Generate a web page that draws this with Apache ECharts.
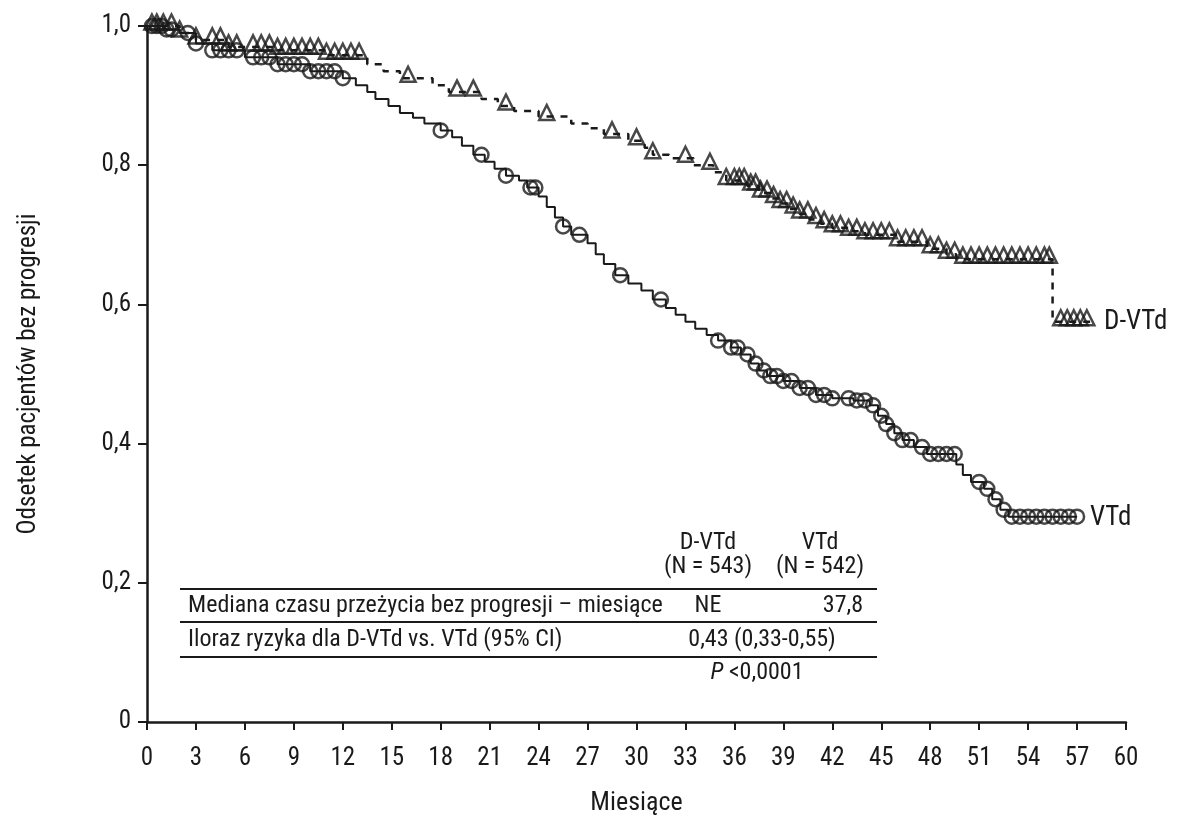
<!DOCTYPE html>
<html><head><meta charset="utf-8">
<script src="https://cdn.jsdelivr.net/npm/echarts@6/dist/echarts.min.js"></script>
<style>html,body{margin:0;background:#fff}#c{width:1178px;height:816px}</style>
</head><body><div id="c"></div>
<script>
// krzywe Kaplana-Meiera: [miesiąc, odsetek]
const vtdSteps = [[0,1],[1,0.995],[2,0.99],[3,0.975],[4,0.965],[6,0.955],[8,0.945],[10,0.935],[12,0.925],[12.8,0.915],[13.5,0.905],[14,0.895],[14.8,0.885],[15.5,0.875],[16.3,0.868],[17,0.86],[18,0.85],[18.7,0.84],[19.3,0.828],[20,0.815],[20.7,0.805],[21.3,0.795],[22,0.785],[22.8,0.778],[23.3,0.768],[24,0.755],[24.5,0.74],[25,0.725],[25.5,0.712],[26,0.70],[27,0.688],[27.5,0.672],[28,0.658],[28.7,0.642],[29.5,0.63],[30.3,0.62],[31,0.607],[31.8,0.595],[32.4,0.585],[33,0.575],[33.6,0.565],[34.3,0.556],[35,0.548],[35.8,0.538],[36.4,0.528],[37,0.515],[37.5,0.505],[38,0.497],[39,0.49],[40,0.48],[41,0.47],[42,0.465],[43.3,0.462],[44.3,0.455],[44.8,0.44],[45.3,0.428],[45.8,0.415],[46.3,0.405],[47,0.395],[47.8,0.385],[49.6,0.37],[50,0.355],[50.5,0.345],[51.3,0.335],[51.8,0.32],[52.3,0.305],[52.8,0.295],[57,0.295]];
const dvtdSteps = [[0,1],[2,0.99],[3,0.98],[5,0.97],[8,0.965],[11,0.958],[13.5,0.945],[14.5,0.935],[15.5,0.925],[17.5,0.915],[18.5,0.905],[20.5,0.895],[21.5,0.885],[22.5,0.878],[24,0.87],[26,0.86],[27,0.853],[28,0.845],[29.5,0.835],[30.5,0.825],[31,0.815],[32,0.81],[33.5,0.80],[34.7,0.79],[35.5,0.778],[36.8,0.77],[37.5,0.76],[38.2,0.752],[38.8,0.745],[39.4,0.737],[40,0.73],[40.6,0.722],[41.3,0.716],[42,0.71],[43,0.705],[44,0.70],[46,0.69],[47.8,0.68],[49,0.672],[49.6,0.665],[55.5,0.575],[57.8,0.575]];
// czasy obserwacji cenzurowanych
const vtdCensor = [0.3,0.6,0.9,1.2,1.5,2.5,3,4,4.5,5,5.5,6.5,7,7.5,8,8.5,9,9.5,10,10.5,11,11.5,12,18,20.5,22,23.5,23.8,25.5,26.5,29,31.5,35,35.8,36.2,36.8,37.3,37.8,38.2,38.6,39,39.5,40,40.5,41,41.5,42,43,43.5,44,44.5,45,45.3,45.8,46.3,46.8,47.5,48,48.5,49,49.5,51,51.5,52,52.5,53,53.5,54,54.5,55,55.5,56,56.5,57];
const dvtdCensor = [0.3,0.6,1,1.5,2,3,4,4.5,5,5.5,6.5,7,7.5,8,8.5,9,9.5,10,10.5,11,11.5,12,12.5,13,16,19,20,22,24.5,28.5,30,31,33,34.5,35.5,36,36.3,36.6,37,37.3,37.6,38,38.4,38.8,39.2,39.6,40,40.5,41,41.5,42,42.5,43,43.5,44,44.5,45,45.5,46,46.5,47,47.5,48,48.5,49,49.5,50,50.5,51,51.5,52,52.5,53,53.5,54,54.5,55,55.3,56,56.4,56.8,57.2,57.6];
const xTicks = [0,60,3];
const yTicks = [0,1,0.2];

function valueAt(steps, t) {
  let v = steps[0][1];
  for (const s of steps) { if (s[0] <= t) v = s[1]; }
  return v;
}
const F = '"Liberation Sans Narrow","Roboto Condensed","Liberation Sans",Arial,sans-serif';
const INK = '#1a1a1a';
const c = echarts.init(document.getElementById('c'));
const txt = (x, y, s, align, style) => ({ type: 'text', x: x, y: y,
  style: Object.assign({ text: s, font: '24px ' + F, fill: INK, textAlign: align || 'left', textVerticalAlign: 'middle' }, style || {}) });
const line = (x1, x2, y) => ({ type: 'line', shape: { x1: x1, y1: y, x2: x2, y2: y }, style: { stroke: INK, lineWidth: 2 } });
c.setOption({
  animation: false,
  grid: { left: 147, right: 52, top: 26, bottom: 94, outerBoundsMode: 'none' },
  xAxis: { type: 'value', min: xTicks[0], max: xTicks[1], interval: xTicks[2],
    name: 'Miesiące', nameLocation: 'middle', nameGap: 68, nameTextStyle: { fontFamily: F, fontSize: 26, color: INK },
    axisLine: { lineStyle: { color: INK, width: 2.5 } }, axisTick: { length: 8, lineStyle: { width: 2 } },
    axisLabel: { fontFamily: F, fontSize: 25, color: INK, margin: 24 }, splitLine: { show: false } },
  yAxis: { type: 'value', min: yTicks[0], max: yTicks[1], interval: yTicks[2],
    name: 'Odsetek pacjentów bez progresji', nameLocation: 'middle', nameGap: 106, nameTextStyle: { fontFamily: F, fontSize: 25, color: INK },
    axisLine: { show: true, lineStyle: { color: INK, width: 2.5 } }, axisTick: { show: true, length: 9, lineStyle: { width: 2 } },
    axisLabel: { fontFamily: F, fontSize: 25, color: INK, margin: 16,
      formatter: v => v === 0 ? '0' : v.toFixed(1).replace('.', ',') }, splitLine: { show: false } },
  series: [
    { type: 'line', step: 'end', data: vtdSteps, symbol: 'none', lineStyle: { color: INK, width: 2 } },
    { type: 'line', step: 'end', data: dvtdSteps, symbol: 'none', lineStyle: { color: INK, width: 2.5, type: [7, 7] } },
    { type: 'scatter', data: vtdCensor.map(t => [t, valueAt(vtdSteps, t)]), symbol: 'circle', symbolSize: 14,
      itemStyle: { color: 'rgba(0,0,0,0)', borderColor: INK, borderWidth: 2.5 } },
    { type: 'scatter', data: dvtdCensor.map(t => [t, valueAt(dvtdSteps, t)]), symbol: 'triangle', symbolSize: 15, symbolOffset: [0, -4],
      itemStyle: { color: 'rgba(0,0,0,0)', borderColor: INK, borderWidth: 2.5 } }
  ],
  graphic: [
    txt(1104, 322, 'D-VTd', 'left', { font: '27px ' + F }),
    txt(1090, 518, 'VTd', 'left', { font: '27px ' + F }),
    txt(708, 543, 'D-VTd', 'center'), txt(708, 567, '(N = 543)', 'center'),
    txt(820, 543, 'VTd', 'center'), txt(820, 567, '(N = 542)', 'center'),
    line(180, 877, 589),
    txt(188, 606, 'Mediana czasu przeżycia bez progresji – miesiące'),
    txt(708, 606, 'NE', 'center'), txt(843, 606, '37,8', 'center'),
    line(180, 877, 622),
    txt(188, 640, 'Iloraz ryzyka dla D-VTd vs. VTd (95% CI)'),
    txt(762, 640, '0,43 (0,33-0,55)', 'center'),
    line(180, 877, 657),
    { type: 'text', x: 757, y: 673, style: { rich: { i: { font: 'italic 24px ' + F, fill: INK }, n: { font: '24px ' + F, fill: INK } },
      text: '{i|P}{n| <0,0001}', textAlign: 'center', textVerticalAlign: 'middle' } }
  ]
});
</script></body></html>
